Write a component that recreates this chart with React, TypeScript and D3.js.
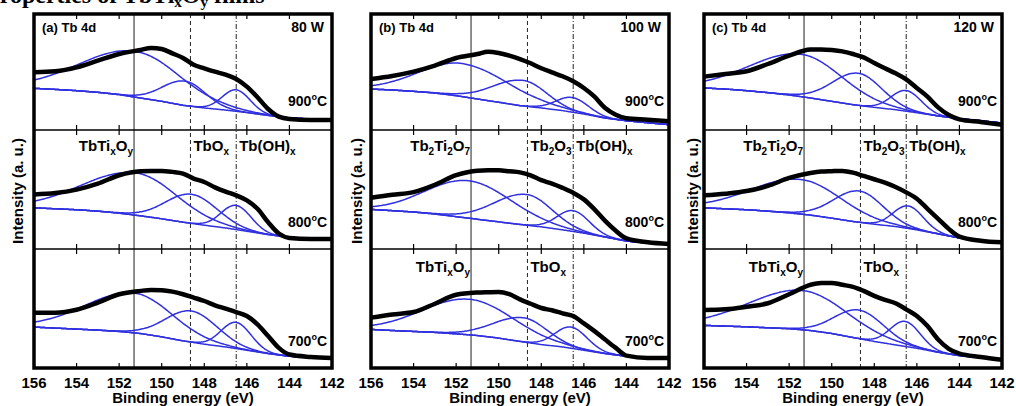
import React from "react";
import * as d3 from "d3";

// binding energies (eV) at which the measured curves were read
const dataE = [156, 155, 154, 153, 152, 151, 150.5, 150, 149.5, 149, 148.5, 148, 147.5, 147, 146.5, 146, 145.5, 145, 144.5, 144, 143, 142];
// background (Shirley) read at 1 eV steps
const bgE = [156, 155, 154, 153, 152, 151, 150, 149, 148, 147, 146, 145, 144, 143, 142];

// measured intensity, % of the sub-panel height
const a900 = [49.7, 50.6, 54, 59.8, 65.5, 69, 70.7, 69.8, 66.1, 62.1, 56.3, 53.2, 50.3, 47.7, 44, 37.4, 28.2, 18.1, 11.5, 9.5, 8.6, 8.6];
const a800 = [45.9, 47, 49.9, 54.9, 62, 65.4, 65.6, 65.6, 64.8, 63.4, 59.2, 56.3, 51.8, 48.2, 45.1, 40.8, 33.8, 22.5, 13, 9.3, 8.5, 8.5];
const a700 = [46.5, 46.5, 49, 55, 62, 64.8, 65.6, 65.4, 64.2, 62, 59.2, 56.3, 52.7, 49.9, 47, 43.7, 36.6, 26.8, 16.9, 11.3, 9.3, 8.5];
const b900 = [44, 46.6, 50.3, 55.5, 62.1, 65.5, 67.5, 66.4, 64.1, 61.2, 57.5, 53.2, 49.7, 46.3, 42, 36.2, 28.7, 19, 13.2, 10.1, 8.9, 7.5];
const b800 = [43, 45.6, 47.8, 54, 62, 65.8, 66.1, 66.1, 65.3, 64.4, 61.9, 57.8, 55, 51.4, 47.2, 41.7, 33.3, 23.6, 15.3, 8.9, 5.6, 4.2];
const b700 = [42.3, 45, 47, 54, 61.5, 63.4, 63.7, 63.9, 62, 57.7, 54, 50.4, 48.5, 45.9, 43.7, 37.5, 31, 23.9, 16.9, 10.4, 8.5, 8.5];
const c900 = [46, 48.3, 50.6, 56.9, 64.1, 69.3, 69.5, 69, 67.8, 65.5, 62.6, 57.8, 53.2, 48.9, 43.7, 36.2, 28.7, 19.5, 12.9, 9.2, 6.9, 4.6];
const c800 = [45.1, 46.5, 48.7, 53, 59.7, 63.9, 65.1, 65.4, 65.6, 64.2, 61.4, 58.6, 55.8, 52.1, 47.6, 42.3, 33.8, 25.4, 16.9, 10.4, 7, 5.6];
const c700 = [48.7, 49.3, 51.5, 54.4, 62, 69.9, 71.5, 71.5, 69.9, 68.2, 64.8, 60.6, 57.2, 54.4, 49.3, 43.7, 35.2, 23.9, 16.1, 12.1, 9.3, 7];

const a900bg = [35.9, 35, 33.9, 32.5, 30.5, 27.6, 24.7, 21.3, 19, 17.2, 15, 12.6, 10.3, 9.5, 8.9];
const a800bg = [34.6, 33.8, 33, 31.8, 30.1, 27.9, 25.4, 22.5, 20, 17.7, 14.9, 12.1, 9.9, 8.7, 8.2];
const a700bg = [34.4, 33.5, 32.7, 31.8, 30.7, 29, 26.2, 22.8, 20, 17.7, 14.9, 12.1, 9.9, 9, 8.5];
const b900bg = [35.3, 34.5, 33.3, 31.9, 29.6, 26.7, 23.9, 21, 19, 16.7, 13.8, 10.3, 8, 6.3, 4.6];
const b800bg = [33.3, 32.2, 31.1, 29.4, 27.2, 25, 22.8, 20.6, 18.6, 16.1, 13.3, 10, 6.7, 5, 3.9];
const b700bg = [32.4, 31.5, 30.7, 29.9, 28.7, 27.3, 25.1, 22.3, 19.7, 17.7, 14.9, 12.1, 9.9, 8.7, 7.6];
const c900bg = [36.2, 35.3, 33.9, 32.2, 30.2, 27.6, 24.7, 21.8, 19.5, 17.5, 14.9, 12.1, 9.8, 8, 6];
const c800bg = [34.6, 33.8, 33, 31.8, 30.4, 28.5, 25.9, 23.1, 20.8, 18.9, 16.1, 12.7, 9.3, 7, 5.6];
const c700bg = [35.8, 35.2, 34.6, 33.8, 33, 31.5, 29, 25.6, 22.3, 19.4, 16.6, 13.2, 10.4, 8.7, 7];

// fitted components: [centre eV, height %, width on high-BE side, width on low-BE side]
const a900pk = [[151.2, 39.4, 2.6, 2.1], [148.9, 21, 1.05, 0.95], [146.5, 18.5, 0.65, 0.65]];
const a800pk = [[151.2, 35.5, 2.5, 1.9], [148.6, 24.5, 1.2, 1.2], [146.5, 20.3, 0.7, 0.7]];
const a700pk = [[151.3, 33.4, 2.3, 1.8], [148.6, 26.2, 1.2, 1.2], [146.5, 22, 0.7, 0.7]];
const b900pk = [[151.7, 28.5, 2.0, 2.2], [148.85, 22, 1.4, 1.1], [146.55, 12.6, 0.75, 0.75]];
const b800pk = [[151.4, 31.4, 2.0, 2.0], [148.7, 25.8, 1.5, 1.2], [146.5, 17.5, 0.75, 0.75]];
const b700pk = [[151.4, 29.9, 2.2, 2.1], [148.8, 20.3, 1.4, 1.1], [146.6, 17.8, 0.75, 0.75]];
const c900pk = [[151.4, 36.5, 2.4, 1.9], [148.75, 27.7, 1.2, 1.1], [146.5, 17.8, 0.7, 0.7]];
const c800pk = [[151.45, 29, 2.3, 1.9], [148.7, 26.3, 1.2, 1.1], [146.4, 18.9, 0.7, 0.7]];
const c700pk = [[151.4, 33, 2.5, 2.1], [148.7, 24, 1.15, 1.15], [146.55, 21, 0.7, 0.7]];

const temps = ["900", "800", "700"];
const xTicks = [156, 154, 152, 150, 148, 146, 144, 142];
const refLines = [151.3, 148.65, 146.5];
const panelTags = ["(a) Tb 4d", "(b) Tb 4d", "(c) Tb 4d"];
const powers = ["80 W", "100 W", "120 W"];

// chemical state labels: [text, isSubscript]
const lblTbTiO: [string, boolean][] = [["TbTi", false], ["x", true], ["O", false], ["y", true]];
const lblTb2Ti2O7: [string, boolean][] = [["Tb", false], ["2", true], ["Ti", false], ["2", true], ["O", false], ["7", true]];
const lblTbO: [string, boolean][] = [["TbO", false], ["x", true]];
const lblTb2O3: [string, boolean][] = [["Tb", false], ["2", true], ["O", false], ["3", true]];
const lblTbOH: [string, boolean][] = [["Tb(OH)", false], ["x", true]];

const BLUE = "#3030e0";
const FONT = "'Liberation Sans', Arial, sans-serif";
const ROWS = [14, 130, 249, 368];
const PANELS = [
  { x0: 34, x1: 332, ylab: 23 },
  { x0: 371, x1: 669, ylab: 362 },
  { x0: 704, x1: 1002, ylab: 698 },
];

const panelRows = [
  [
    { data: a900, bg: a900bg, pk: a900pk },
    { data: a800, bg: a800bg, pk: a800pk },
    { data: a700, bg: a700bg, pk: a700pk },
  ],
  [
    { data: b900, bg: b900bg, pk: b900pk },
    { data: b800, bg: b800bg, pk: b800pk },
    { data: b700, bg: b700bg, pk: b700pk },
  ],
  [
    { data: c900, bg: c900bg, pk: c900pk },
    { data: c800, bg: c800bg, pk: c800pk },
    { data: c700, bg: c700bg, pk: c700pk },
  ],
];

const fineE = d3.range(156, 141.99, -0.05);

function peakAt(e: number, p: number[]) {
  const s = e > p[0] ? p[2] : p[3];
  return p[1] * Math.exp(-((e - p[0]) ** 2) / (2 * s * s));
}

const Label = ({ x, y, segs, anchor = "start" }: { x: number; y: number; segs: [string, boolean][]; anchor?: string }) => {
  let shift = 0;
  return (
    <text x={x} y={y} textAnchor={anchor} fontSize={15} fontWeight="bold">
      {segs.map(([t, sub], k) => {
        const target = sub ? 4 : 0;
        const dy = target - shift;
        shift = target;
        return (
          <tspan key={k} dy={dy} fontSize={sub ? 10 : 15}>
            {t}
          </tspan>
        );
      })}
    </text>
  );
};

const Temp = ({ x, y, t }: { x: number; y: number; t: string }) => (
  <text x={x} y={y} textAnchor="end" fontSize={14} fontWeight="bold">
    <tspan>{t}</tspan>
    <tspan dy={-6} fontSize={9}>o</tspan>
    <tspan dy={6}>C</tspan>
  </text>
);

const Panel = ({ idx }: { idx: number }) => {
  const g = PANELS[idx];
  const x = d3.scaleLinear().domain([156, 142]).range([g.x0, g.x1]);
  const lx = refLines.map((v) => x(v));

  return (
    <g fontFamily={FONT} fill="#000">
      {/* reference lines */}
      <line x1={lx[0]} x2={lx[0]} y1={ROWS[0]} y2={ROWS[3]} stroke="#444" strokeWidth={1.2} />
      <line x1={lx[1]} x2={lx[1]} y1={ROWS[0]} y2={ROWS[3]} stroke="#222" strokeWidth={1} strokeDasharray="4,3" />
      <line x1={lx[2]} x2={lx[2]} y1={ROWS[0]} y2={ROWS[3]} stroke="#222" strokeWidth={1} strokeDasharray="5,2,1,2" />

      {panelRows[idx].map((r, i) => {
        const y = d3.scaleLinear().domain([0, 100]).range([ROWS[i + 1], ROWS[i]]);
        const bgAt = d3.scaleLinear().domain(bgE).range(r.bg).clamp(true);
        const line = d3
          .line<[number, number]>()
          .x((d) => x(d[0]))
          .y((d) => y(d[1]));
        const bgPath = line(fineE.map((e) => [e, bgAt(e)]));
        const pkPaths = r.pk.map((p) => line(fineE.map((e) => [e, bgAt(e) + peakAt(e, p)])));
        const dataLine = d3
          .line<number>()
          .x((_, k) => x(dataE[k]))
          .y((d) => y(d))
          .curve(d3.curveMonotoneX);
        return (
          <g key={i}>
            <path d={bgPath || ""} fill="none" stroke={BLUE} strokeWidth={1.5} />
            {pkPaths.map((d, k) => (
              <path key={k} d={d || ""} fill="none" stroke={BLUE} strokeWidth={1.5} />
            ))}
            <path d={dataLine(r.data) || ""} fill="none" stroke="#000" strokeWidth={4.5} strokeLinejoin="round" />
            {xTicks.slice(1, -1).map((t) => (
              <g key={t}>
                <line x1={x(t)} x2={x(t)} y1={ROWS[i]} y2={ROWS[i] + 5} stroke="#000" strokeWidth={1.2} />
                <line x1={x(t)} x2={x(t)} y1={ROWS[i + 1]} y2={ROWS[i + 1] - 5} stroke="#000" strokeWidth={1.2} />
              </g>
            ))}
            <Temp x={g.x1 - 5} y={ROWS[i] + (i === 0 ? 92 : 97)} t={temps[i]} />
          </g>
        );
      })}

      {/* row dividers and frame */}
      <line x1={g.x0} x2={g.x1} y1={ROWS[1]} y2={ROWS[1]} stroke="#000" strokeWidth={1.5} />
      <line x1={g.x0} x2={g.x1} y1={ROWS[2]} y2={ROWS[2]} stroke="#000" strokeWidth={1.5} />
      <rect x={g.x0} y={ROWS[0]} width={g.x1 - g.x0} height={ROWS[3] - ROWS[0]} fill="none" stroke="#000" strokeWidth={3.5} />

      <text x={g.x0 + 8} y={ROWS[0] + 18} fontSize={13} fontWeight="bold">{panelTags[idx]}</text>
      <text x={g.x1 - 8} y={ROWS[0] + 18} fontSize={14} fontWeight="bold" textAnchor="end">{powers[idx]}</text>

      {/* component labels */}
      <Label x={lx[0] - 1} y={ROWS[1] + 21} anchor="end" segs={idx === 0 ? lblTbTiO : lblTb2Ti2O7} />
      <Label x={lx[1] + 3} y={ROWS[1] + 21} segs={idx === 0 ? lblTbO : lblTb2O3} />
      <Label x={lx[2] + 3} y={ROWS[1] + 21} segs={lblTbOH} />
      {idx > 0 && <Label x={lx[0] - 1} y={ROWS[2] + 23} anchor="end" segs={lblTbTiO} />}
      {idx > 0 && <Label x={lx[1] + 3} y={ROWS[2] + 23} segs={lblTbO} />}

      {/* x axis */}
      {xTicks.map((t) => (
        <text key={t} x={x(t)} y={388} fontSize={15} fontWeight="bold" textAnchor="middle">{t}</text>
      ))}
      <text x={(g.x0 + g.x1) / 2} y={403} fontSize={15} fontWeight="bold" textAnchor="middle">Binding energy (eV)</text>
      <text
        transform={`translate(${g.ylab},${(ROWS[0] + ROWS[3]) / 2}) rotate(-90)`}
        fontSize={15}
        fontWeight="bold"
        textAnchor="middle"
      >
        Intensity (a. u.)
      </text>
    </g>
  );
};

export default function App() {
  return (
    <svg width={1016} height={406} style={{ position: "absolute", left: 0, top: 0, background: "#fff" }}>
      <rect width={1016} height={406} fill="#fff" />
      <text x={-15} y={3} fontFamily="'Liberation Serif', 'Times New Roman', serif" fontWeight="bold" fontSize={24}>
        <tspan>Properties of TbTi</tspan>
        <tspan dy={4} fontSize={15}>x</tspan>
        <tspan dy={-4}>O</tspan>
        <tspan dy={4} fontSize={15}>y</tspan>
        <tspan dy={-4}> films</tspan>
      </text>
      {[0, 1, 2].map((i) => (
        <Panel key={i} idx={i} />
      ))}
    </svg>
  );
}
